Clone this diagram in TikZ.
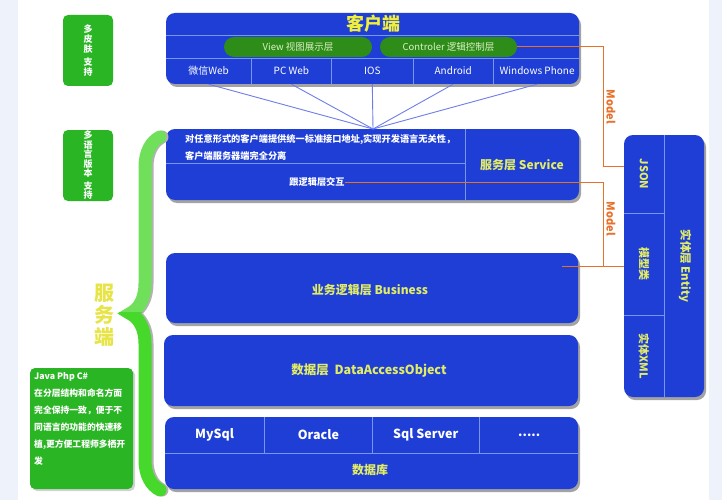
\documentclass[tikz,border=0pt]{standalone}
\usepackage{fontspec}
\setmainfont{Noto Sans CJK SC}
\usepackage{tikz}
\usetikzlibrary{positioning, shadows, decorations.pathreplacing}

\definecolor{layerblue}{RGB}{30,62,214}
\definecolor{divblue}{RGB}{120,150,240}
\definecolor{titleyellow}{RGB}{240,240,60}
\definecolor{labelyellow}{RGB}{226,236,100}
\definecolor{pillgreen}{RGB}{46,140,24}
\definecolor{pilltext}{RGB}{220,240,200}
\definecolor{boxgreen}{RGB}{42,182,36}
\definecolor{braceupper}{RGB}{112,224,90}
\definecolor{bracelower}{RGB}{70,216,42}
\definecolor{modelorange}{RGB}{232,112,40}
\definecolor{hubblue}{RGB}{110,125,232}
\definecolor{pageedge}{RGB}{238,242,250}
\definecolor{serveryellow}{RGB}{230,228,70}

\tikzset{
layerbox/.style={fill=layerblue, rounded corners=9pt, inner sep=0pt,
  drop shadow={shadow xshift=2pt, shadow yshift=-3pt, opacity=0.45, fill=black!80}}, % the blue layers
divider/.style={draw=divblue, line width=0.8pt}, % thin lines inside a layer
cell/.style={minimum height=26, inner sep=0pt, text=white, font=\fontsize{10}{12}\selectfont}, % one client platform
dbcell/.style={minimum height=36, inner sep=0pt, text=white, font=\bfseries\fontsize{12.5}{14}\selectfont}, % one database
pill/.style={fill=pillgreen, rounded corners=10pt, minimum height=20, inner sep=0pt, text=pilltext, font=\fontsize{9.5}{11}\selectfont}, % view and controller
bigtitle/.style={text=titleyellow, font=\bfseries\fontsize{18}{20}\selectfont},
whitetext/.style={text=white, inner sep=0pt, font=\bfseries\fontsize{9.2}{17}\selectfont},
yellowtext/.style={text=labelyellow, inner sep=0pt, font=\bfseries\fontsize{12}{14}\selectfont},
sidebox/.style={fill=boxgreen, rounded corners=5pt, inner sep=0pt, text=white, align=center,
  font=\bfseries\fontsize{9}{10}\selectfont}, % green notes on the left
hubline/.style={draw=hubblue, line width=0.9pt},
model/.style={draw=modelorange, line width=1pt},
modeltext/.style={text=modelorange, inner sep=0pt, font=\bfseries\fontsize{11}{13}\selectfont},
servebrace/.style={line width=13pt, line cap=round, decorate,
  decoration={brace, amplitude=30pt}},
}

\begin{document}
\begin{tikzpicture}[x=1pt, y=-1pt]
\useasboundingbox (0,0) rectangle (722,500);
\fill[pageedge] (0,0) rectangle (722,500);
\fill[white] (18,0) rectangle (709,500);

% client layer
\node[layerbox, minimum width=413, minimum height=71] (client) at (372.5,48.5) {};
\node[bigtitle] (clienttitle) at (373,24) {客户端};
\draw[divider] (166,35) -- (579,35);
\draw[divider] (166,58) -- (579,58);
\node[pill, minimum width=148] (view) at (298,47) {View 视图展示层};
\node[pill, minimum width=137] (ctrl) at (448.5,47) {Controler 逻辑控制层};
\node[cell, minimum width=85] (wx) at (208.5,71) {微信Web};
\node[cell, minimum width=80, right=0pt of wx] (pc) {PC Web};
\node[cell, minimum width=81, right=0pt of pc] (ios) {IOS};
\node[cell, minimum width=80, right=0pt of ios] (andr) {Android};
\node[cell, minimum width=87, right=0pt of andr] (wp) {Windows Phone};
\foreach \c in {wx,pc,ios,andr}
  \draw[divider] (\c.north east) -- (\c.south east);

% service layer
\node[layerbox, minimum width=413, minimum height=71] (svc) at (372.5,164.5) {};
\draw[divider] (465,129) -- (465,200);
\draw[divider] (166,163) -- (465,163);
\node[whitetext, anchor=west, align=left] (svcnote) at (185,147.5)
  {对任意形式的客户端提供统一标准接口地址,实现开发语言无关性，\\客户端服务器端完全分离};
\node[whitetext] (logic) at (317,182) {跟逻辑层交互};
\node[yellowtext] (svcname) at (522,165) {服务层 Service};

\coordinate (hub) at (373,129);
\foreach \c in {wx,pc,ios,andr,wp}
  \draw[hubline] (\c.south) -- (hub);

% business and data layers
\node[layerbox, minimum width=412, minimum height=70] (biz) at (372,288) {};
\node[yellowtext] (bizname) at (370,290) {业务逻辑层 Business};
\node[layerbox, minimum width=414, minimum height=71] (dao) at (371,370.5) {};
\node[yellowtext, font=\bfseries\fontsize{12.5}{14}\selectfont] (daoname) at (369,371) {数据层\ \ DataAccessObject};

% database layer
\node[layerbox, minimum width=413, minimum height=72] (db) at (371.5,453) {};
\draw[divider] (165,453) -- (578,453);
\node[dbcell, minimum width=99] (mysql) at (214.5,435) {MySql};
\node[dbcell, minimum width=108, right=0pt of mysql] (oracle) {Oracle};
\node[dbcell, minimum width=106, right=0pt of oracle] (sqlsrv) {Sql Server};
\node[dbcell, minimum width=100, right=0pt of sqlsrv] (more) {.....};
\foreach \c in {mysql,oracle,sqlsrv}
  \draw[divider] (\c.north east) -- (\c.south east);
\node[yellowtext] (dbname) at (370,470) {数据库};

% entity column
\node[layerbox, minimum width=80, minimum height=262] (entity) at (664,266) {};
\draw[divider] (664,135) -- (664,397);
\draw[divider] (624,213) -- (664,213);
\draw[divider] (624,315) -- (664,315);
\node[yellowtext, font=\bfseries\fontsize{11}{13}\selectfont, rotate=-90] (json) at (644,174) {JSON};
\node[yellowtext, font=\bfseries\fontsize{11}{13}\selectfont, rotate=-90] (mclass) at (644,264) {模型类};
\node[yellowtext, font=\bfseries\fontsize{11}{13}\selectfont, rotate=-90] (xml) at (644,356) {实体XML};
\node[yellowtext, font=\bfseries\fontsize{11.5}{13}\selectfont, rotate=-90] (entname) at (685,266) {实体层 Entity};

% model links
\coordinate (bend1) at (603,166);
\coordinate (bend2) at (603,266);
\coordinate (bizhook) at (562,266);
\draw[model] (ctrl.east) -| (bend1) -- (bend1 -| entity.west);
\draw[model] (logic.east) -| (bend2) -- (bend2 -| entity.west);
\draw[model] (bend2) -- (bizhook);
\node[modeltext, rotate=-90] (model1) at (611,107) {Model};
\node[modeltext, rotate=-90] (model2) at (611,219) {Model};

% left side
\node[sidebox, minimum width=50, minimum height=71] (skin) at (88,50.5) {多\\皮\\肤\\[3pt]支\\持};
\node[sidebox, minimum width=50, minimum height=71, font=\bfseries\fontsize{9}{9.5}\selectfont] (lang) at (88,165.5) {多\\语\\言\\版\\本\\[3pt]支\\持};
\node[sidebox, minimum width=103, minimum height=121,
  drop shadow={shadow xshift=2pt, shadow yshift=-2pt, opacity=0.35}] (langbox) at (81.5,428.5) {};
\node[whitetext, anchor=north west, align=left, font=\bfseries\fontsize{8.8}{17}\selectfont] (langnote) at (34,372)
  {Java Php C\#\\在分层结构和命名方面\\完全保持一致，便于不\\同语言的功能的快速移\\植,更方便工程师多栖开\\发};

% the brace, light above the tip and bright below
\draw[servebrace, draw=black!30] (162,490) -- (162,137);
\begin{scope}
  \clip (100,100) rectangle (170,312);
  \draw[servebrace, draw=braceupper] (160,490) -- (160,137);
\end{scope}
\begin{scope}
  \clip (100,312) rectangle (170,500);
  \draw[servebrace, draw=bracelower] (160,490) -- (160,137);
\end{scope}
\node[text=serveryellow, align=center, font=\bfseries\fontsize{20}{22}\selectfont] (server) at (104,315) {服\\务\\端};
\end{tikzpicture}
\end{document}
